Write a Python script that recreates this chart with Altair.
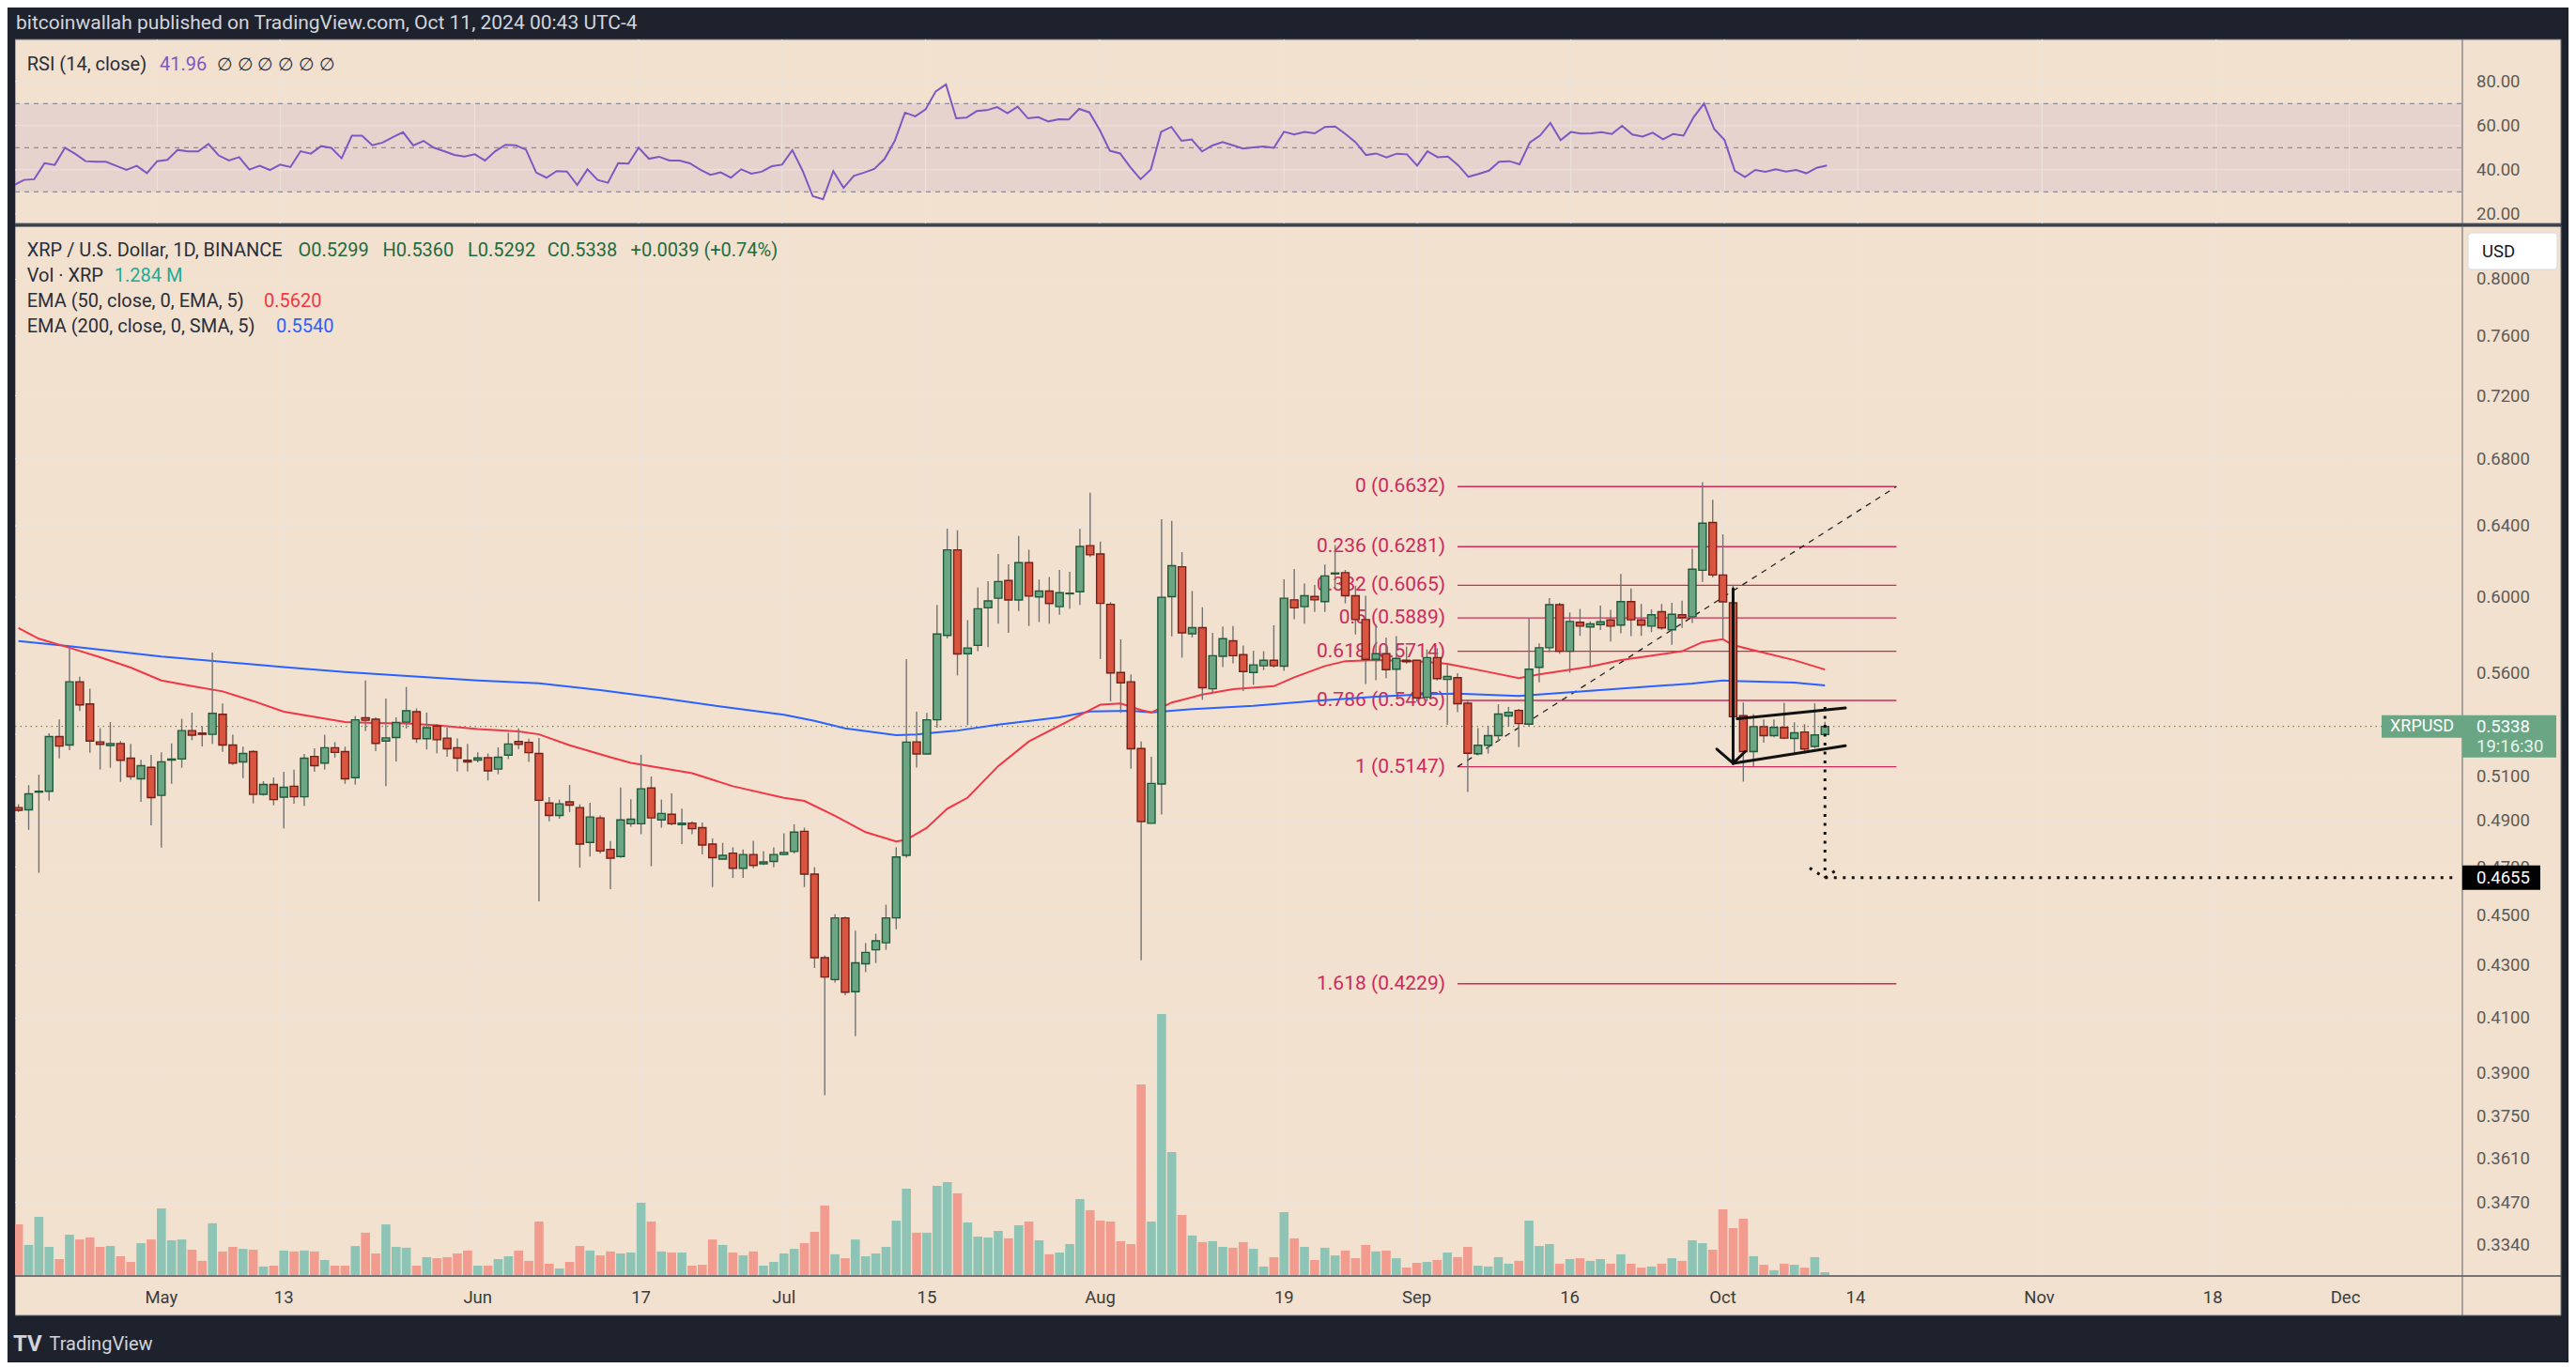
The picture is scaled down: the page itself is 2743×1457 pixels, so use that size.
import altair as alt
import pandas as pd

FONT = "Roboto"
W = 2727
TOP_H = 230
MAIN_H = 1211

DARK = "#1e222d"
BEIGE = "#f2e1cf"
GRID = "#ebe3dc"
UP_FILL = "#6ba584"
UP_LINE = "#1f5a3a"
DN_FILL = "#d9553f"
DN_LINE = "#74201a"
VOL_UP = "#8ec4b5"
VOL_DN = "#f29b8f"
WICK = "#737373"
FIB = "#cc2a5c"
EMA50_C = "#f23645"
EMA200_C = "#2962ff"
RSI_C = "#7e57c2"
TXT = "#2a2e39"
AXIS_TXT = "#5b5b5b"
GREEN_TXT = "#1f6b40"
TEAL = "#22ab94"
BOX_GREEN = "#6aa684"

# ---------------- data ----------------
first_day = "2024-04-17"
last_day = "2024-10-11"

opens = [
    .4960, .4950, .5030, .5034, .5289, .5249, .5558, .5448, .5264, .5247,
    .5256, .5187, .5091, .5144,
    .5015, .5178, .5183, .5318, .5306, .5300, .5397, .5249, .5169, .5218,
    .5020, .5065, .5007, .5057, .5009, .5195, .5164, .5236, .5218, .5096,
    .5380, .5373, .5268, .5285, .5359, .5410, .5279, .5340, .5282, .5236,
    .5177, .5178, .5189, .5136, .5201, .5266, .5262, .5209, .4981, .4925,
    .4986, .4960, .4806, .4914, .4776, .4745, .4888, .4888, .5049, .4905,
    .4930, .4884, .4891, .4871, .4799, .4734, .4760, .4695, .4754, .4714,
    .4724, .4754, .4767, .4855, .4670, .4330, .4245, .4489, .4199, .4306,
    .4361, .4389, .4489, .4750, .5264, .5207, .5370, .5796, .6263, .5701,
    .5744, .5943, .5995, .6092, .5985, .6191, .6002, .6034, .5949, .6019,
    .6030, .6287, .6240, .5962, .5605, .5558, .5232, .4890, .5067, .6003,
    .6168, .5805, .5837, .5523, .5688, .5768, .5696, .5605, .5639, .5667,
    .5637, .5986, .5949, .6004, .5976, .6128, .6135, .6008, .5880, .5672,
    .5701, .5622, .5667, .5667, .5481, .5681, .5570, .5579, .5451, .5208,
    .5248, .5294, .5389, .5416, .5349, .5631, .5732, .5960, .5714, .5866,
    .5841, .5853, .5878, .5851, .5976, .5878, .5845, .5922, .5826, .5906,
    .5895, .6148, .6420, .6122, .5970, .5390, .5218, .5337, .5294, .5333,
    .5280, .5311, .5242, .5299,
]
highs = [
    .4975, .5062, .5110, .5305, .5372, .5728, .5584, .5523, .5330, .5359,
    .5268, .5254, .5179, .5202,
    .5214, .5257, .5375, .5405, .5338, .5707, .5450, .5298, .5241, .5225,
    .5080, .5097, .5123, .5133, .5207, .5233, .5298, .5263, .5241, .5389,
    .5565, .5382, .5475, .5382, .5532, .5426, .5405, .5350, .5332, .5280,
    .5254, .5214, .5209, .5238, .5307, .5329, .5279, .5283, .5007, .4996,
    .5063, .4975, .4982, .4925, .4812, .5051, .4998, .5203, .5102, .4996,
    .5024, .4955, .4899, .4894, .4824, .4804, .4785, .4776, .4813, .4768,
    .4785, .4846, .4886, .4871, .4700, .4338, .4504, .4494, .4437, .4388,
    .4425, .4543, .4785, .5673, .5410, .5404, .5958, .6384, .6375, .5877,
    .6053, .6088, .6240, .6182, .6342, .6264, .6097, .6111, .6150, .6140,
    .6383, .6596, .6310, .5973, .5776, .5595, .5266, .5193, .6439, .6430,
    .6250, .6034, .5946, .5810, .5843, .5846, .5744, .5717, .5714, .5850,
    .6098, .6155, .6075, .6067, .6180, .6290, .6150, .6063, .6008, .5856,
    .5785, .5793, .5738, .5670, .5723, .5730, .5649, .5602, .5467, .5330,
    .5342, .5446, .5433, .5423, .5889, .5755, .5995, .5970, .5918, .5937,
    .5870, .5955, .5932, .6128, .6048, .5964, .5935, .5964, .5970, .5982,
    .6269, .6658, .6554, .6351, .6068, .5455, .5398, .5372, .5372, .5454,
    .5358, .5349, .5451, .5360,
]
lows = [
    .4940, .4861, .4676, .4991, .5186, .5225, .5413, .5212, .5134, .5142,
    .5077, .5086, .4986, .4881,
    .4784, .5068, .5142, .5272, .5242, .5254, .5217, .5155, .5094, .4979,
    .5014, .4970, .4868, .4977, .4968, .5123, .5134, .5190, .5068, .5064,
    .5316, .5220, .5057, .5171, .5328, .5259, .5228, .5210, .5194, .5125,
    .5125, .5167, .5083, .5112, .5183, .5230, .5169, .4557, .4899, .4910,
    .4940, .4698, .4745, .4758, .4607, .4740, .4875, .4842, .4704, .4871,
    .4881, .4799, .4842, .4754, .4616, .4731, .4654, .4654, .4695, .4709,
    .4699, .4751, .4758, .4616, .4290, .3823, .4234, .4185, .4034, .4274,
    .4309, .4361, .4443, .4740, .5143, .5203, .5332, .5780, .5590, .5344,
    .5715, .5735, .5858, .5810, .5926, .5846, .5867, .5858, .5906, .5938,
    .5958, .6222, .5674, .5460, .5404, .5138, .4320, .4889, .4929, .5792,
    .5681, .5786, .5468, .5503, .5633, .5652, .5512, .5543, .5617, .5630,
    .5613, .5882, .5858, .5921, .5921, .6047, .5967, .5801, .5547, .5566,
    .5577, .5498, .5650, .5460, .5460, .5565, .5346, .5407, .5031, .5200,
    .5208, .5268, .5337, .5239, .5337, .5555, .5709, .5701, .5604, .5794,
    .5631, .5825, .5764, .5808, .5793, .5794, .5814, .5826, .5747, .5836,
    .5862, .6084, .6108, .5780, .5268, .5078, .5150, .5260, .5286, .5277,
    .5212, .5208, .5234, .5292,
]
closes = [
    .4948, .5022, .5034, .5289, .5244, .5558, .5443, .5268, .5252, .5256,
    .5177, .5101, .5152, .5005,
    .5170, .5183, .5318, .5296, .5300, .5402, .5249, .5164, .5209, .5020,
    .5065, .4996, .5052, .5009, .5187, .5152, .5236, .5214, .5091, .5370,
    .5368, .5257, .5283, .5357, .5414, .5279, .5332, .5274, .5231, .5187,
    .5169, .5188, .5128, .5191, .5254, .5252, .5213, .4993, .4925, .4977,
    .4971, .4799, .4918, .4769, .4738, .4905, .4908, .5045, .4914, .4934,
    .4888, .4891, .4866, .4795, .4740, .4750, .4695, .4754, .4707, .4722,
    .4754, .4763, .4851, .4670, .4330, .4255, .4489, .4197, .4310, .4351,
    .4397, .4489, .4743, .5263, .5207, .5370, .5804, .6263, .5700, .5731,
    .5938, .5980, .6086, .5985, .6191, .6006, .6034, .5966, .6025, .6022,
    .6282, .6235, .5967, .5603, .5553, .5231, .4898, .5070, .6000, .6174,
    .5810, .5837, .5528, .5691, .5779, .5691, .5610, .5644, .5667, .5639,
    .5995, .5943, .6008, .5986, .6117, .6133, .6008, .5880, .5672, .5701,
    .5619, .5677, .5660, .5478, .5681, .5574, .5585, .5449, .5210, .5248,
    .5294, .5398, .5407, .5352, .5622, .5732, .5960, .5714, .5870, .5845,
    .5857, .5868, .5845, .5976, .5879, .5851, .5906, .5836, .5908, .5891,
    .6154, .6416, .6122, .5975, .5385, .5218, .5337, .5294, .5333, .5282,
    .5307, .5230, .5297, .5338,
]
volumes_m = [
    23.2,
    13.8, 26.7, 12.9, 7.3, 18.5, 16.3, 17.2, 12.9, 13.3, 8.6,
    6.0, 14.6, 16.3, 30.5, 15.9, 16.3, 11.6, 6.5, 23.7, 10.8,
    12.9, 12.0, 11.6, 3.9, 4.3, 11.2, 10.8, 11.2, 10.8, 6.9,
    4.3, 4.3, 13.3, 19.4, 9.9, 23.2, 12.9, 12.5, 4.3, 8.2,
    7.7, 8.2, 9.9, 11.2, 4.3, 4.3, 7.3, 8.6, 11.2, 6.5,
    24.5, 5.2, 3.0, 6.0, 13.3, 11.2, 9.0, 10.8, 9.9, 10.3,
    33.1, 24.5, 10.8, 10.3, 10.3, 4.3, 4.7, 16.3, 13.8, 10.3,
    9.0, 10.8, 4.3, 6.0, 9.9, 12.0, 14.6, 19.8, 31.8, 9.5,
    7.7, 16.3, 8.6, 9.9, 12.9, 24.9, 39.6, 19.4, 19.4, 40.9,
    42.6, 37.4, 24.1, 17.6, 17.2, 20.2, 16.8, 22.8, 24.5, 15.9,
    9.5, 10.3, 14.2, 34.8, 29.7, 24.9, 24.5, 15.5, 14.2, 87.3,
    24.5, 119.5, 56.3, 27.5, 18.1, 15.1, 15.5, 12.9, 12.5, 15.1,
    12.0, 3.9, 8.2, 28.8, 16.8, 12.9, 6.9, 12.5, 9.0, 11.2,
    7.7, 13.8, 10.8, 11.2, 7.7, 3.4, 5.6, 6.0, 6.9, 10.3,
    8.2, 12.9, 4.3, 3.9, 8.2, 5.2, 6.5, 24.9, 13.3, 14.2,
    5.2, 7.3, 7.7, 6.5, 7.3, 5.2, 9.5, 5.2, 3.4, 3.9,
    5.2, 7.7, 6.5, 15.9, 14.6, 11.6, 30.1, 21.5, 25.8, 8.6,
    4.7, 2.2, 5.2, 4.7, 3.4, 8.2, 1.284,
]
rsi_values = [
    33.0,
    35.4, 35.7, 43.0, 42.2, 50.0, 47.2, 43.9, 43.6, 43.6, 41.8,
    39.9, 41.8, 38.5, 43.9, 44.5, 49.0, 48.3, 48.3, 51.7, 46.5,
    44.2, 45.7, 40.1, 41.8, 39.9, 42.3, 41.2, 48.4, 47.3, 50.7,
    49.9, 45.2, 55.4, 55.4, 51.1, 52.3, 54.8, 57.0, 51.0, 53.1,
    50.0, 48.4, 46.7, 46.0, 47.0, 44.2, 48.4, 51.3, 51.1, 49.1,
    38.7, 36.4, 39.4, 39.2, 33.1, 40.2, 35.4, 34.1, 43.0, 42.8,
    50.0, 45.0, 45.9, 44.2, 44.2, 42.9, 40.1, 37.7, 38.8, 36.4,
    40.2, 38.2, 39.1, 41.6, 42.3, 48.9, 39.6, 28.0, 26.6, 39.4,
    31.8, 37.2, 38.7, 40.4, 44.9, 53.1, 65.9, 64.2, 67.3, 75.5,
    78.7, 63.3, 63.6, 66.6, 67.0, 68.4, 65.6, 68.6, 63.3, 63.8,
    61.9, 62.9, 62.8, 67.6, 66.0, 58.1, 48.6, 47.4, 41.1, 35.7,
    40.1, 57.2, 59.4, 53.1, 53.7, 48.3, 51.0, 52.6, 51.1, 49.6,
    50.1, 50.6, 49.9, 57.2, 56.0, 57.1, 56.5, 59.4, 59.6, 56.2,
    52.4, 46.7, 47.4, 45.6, 47.3, 47.0, 41.9, 48.4, 45.7, 46.0,
    42.1, 36.8, 38.1, 39.6, 43.6, 43.9, 42.5, 52.4, 55.5, 61.2,
    53.4, 57.1, 56.4, 56.5, 57.0, 56.2, 59.9, 56.0, 55.0, 56.8,
    53.8, 56.2, 55.5, 63.9, 70.0, 58.4, 53.5, 39.6, 36.7, 39.9,
    39.1, 40.2, 39.2, 39.9, 38.4, 40.9, 41.96,
]

# EMA sample points (days after 2024-05-01, value)
ema50_days = [-14, -12, -9, -6, -3, 0, 3, 6, 9, 12, 15, 18, 21, 24, 27, 31, 35, 37, 40, 44,
              46, 52, 56, 61, 63, 66, 69, 72, 73, 75, 77, 79, 82, 85, 88, 91, 92, 94, 96, 97,
              99, 102, 105, 109, 111, 114, 116, 119, 122, 124, 126, 130, 133, 135, 140, 143,
              149, 151, 153, 154, 156, 160, 163]
ema50_vals = [.5835, .5779, .5732, .5683, .5630, .5565, .5536, .5510, .5462, .5410, .5384, .5359,
              .5355, .5353, .5343, .5325, .5314, .5300, .5248, .5191, .5165, .5117, .5057, .5004,
              .4990, .4923, .4851, .4810, .4818, .4870, .4955, .5005, .5150, .5266, .5342, .5418,
              .5444, .5450, .5418, .5406, .5455, .5494, .5521, .5536, .5581, .5638, .5663, .5668,
              .5664, .5659, .5649, .5608, .5577, .5595, .5635, .5668, .5714, .5761, .5776, .5746,
              .5719, .5668, .5620]
ema200_days = [-14, -9, 0, 12, 18, 31, 37, 43, 49, 55, 61, 64, 67, 72, 74, 76, 78, 82, 88, 91,
               95, 97, 101, 107, 113, 119, 124, 127, 133, 140, 146, 150, 153, 154, 160, 163]
ema200_vals = [.5767, .5740, .5687, .5632, .5607, .5565, .5551, .5517, .5477, .5434, .5395, .5365,
               .5329, .5296, .5299, .5309, .5318, .5347, .5382, .5411, .5414, .5406, .5422, .5439,
               .5463, .5484, .5496, .5499, .5487, .5513, .5535, .5549, .5565, .5562, .5554, .5540]

# price gridlines; the 0.5300 label is hidden under the live-price tag in the reference
price_ticks = [0.334, 0.347, 0.361, 0.375, 0.39, 0.41, 0.43, 0.45, 0.47, 0.49, 0.51, 0.53,
               0.56, 0.60, 0.64, 0.68, 0.72, 0.76, 0.80]
price_label_ticks = [0.334, 0.347, 0.361, 0.375, 0.39, 0.41, 0.43, 0.45, 0.47, 0.49, 0.51,
                     0.56, 0.60, 0.64, 0.68, 0.72, 0.76, 0.80]
rsi_ticks = [20, 40, 60, 80]
rsi_levels = [70, 50, 30]
time_tick_dates = ["2024-05-01", "2024-05-13", "2024-06-01", "2024-06-17", "2024-07-01",
                   "2024-07-15", "2024-08-01", "2024-08-19", "2024-09-01", "2024-09-16",
                   "2024-10-01", "2024-10-14", "2024-11-01", "2024-11-18", "2024-12-01"]
time_tick_labels = ["May", "13", "Jun", "17", "Jul", "15", "Aug", "19", "Sep", "16",
                    "Oct", "14", "Nov", "18", "Dec"]

fib_ratios = ["0", "0.236", "0.382", "0.5", "0.618", "0.786", "1", "1.618"]
fib_prices = [0.6632, 0.6281, 0.6065, 0.5889, 0.5714, 0.5465, 0.5147, 0.4229]
fib_start_date = "2024-09-05"
fib_end_date = "2024-10-18"

current_price = 0.5338
target_price = 0.4655

# hand drawings: (day0, price0, day1, price1), days after 2024-05-01
flag_segments = [
    (154.0, 0.6046, 154.0, 0.5163),
    (152.4, 0.5230, 154.0, 0.5163),
    (154.0, 0.5163, 155.2, 0.5219),
    (154.4, 0.5375, 165.0, 0.5428),
    (154.0, 0.5163, 165.0, 0.5246),
]
projection_segments = [
    (163.0, 0.5433, 163.0, 0.4655),
    (161.5, 0.4696, 163.0, 0.4655),
    (163.0, 0.4655, 164.4, 0.4696),
    (163.0, 0.4655, 225.0, 0.4655),
]

# ---------------- frames ----------------
origin = pd.Timestamp("2024-05-01")
def day_of(s):
    return (pd.Timestamp(s) - origin).days

dates = pd.date_range(first_day, last_day, freq="D")
candles = pd.DataFrame({
    "day": [(d - origin).days for d in dates],
    "open": opens, "high": highs, "low": lows, "close": closes,
    "volume": volumes_m, "rsi": rsi_values,
})
candles["dir"] = ["up" if c >= o else "down" for o, c in zip(opens, closes)]

ema50 = pd.DataFrame({"day": ema50_days, "v": ema50_vals})
ema200 = pd.DataFrame({"day": ema200_days, "v": ema200_vals})
ticks_df = pd.DataFrame({"day": [day_of(s) for s in time_tick_dates], "lab": time_tick_labels})
grid_df = pd.DataFrame({"p": price_ticks})
price_df = pd.DataFrame({"p": price_label_ticks, "lab": [f"{p:.4f}" for p in price_label_ticks]})
rsi_tick_df = pd.DataFrame({"v": rsi_ticks, "lab": [f"{v:.2f}" for v in rsi_ticks]})
fib_df = pd.DataFrame({
    "p": fib_prices,
    "lab": [f"{r} ({p:.4f})" for r, p in zip(fib_ratios, fib_prices)],
    "x0": day_of(fib_start_date), "x1": day_of(fib_end_date),
})
diag_df = pd.DataFrame([(day_of(fib_start_date), fib_prices[6], day_of(fib_end_date), fib_prices[0])],
                       columns=["x0", "y0", "x1", "y1"])
flag_df = pd.DataFrame(flag_segments, columns=["x0", "y0", "x1", "y1"])
proj_df = pd.DataFrame(projection_segments, columns=["x0", "y0", "x1", "y1"])

# ---------------- scales ----------------
xs = alt.Scale(domain=[-14.613, 235.39], range=[0, W], nice=False, zero=False)
ps = alt.Scale(type="log", domain=[0.32465, 0.84005], range=[1119, 0], nice=False)
vs = alt.Scale(domain=[0, 480.7], range=[1118, 0], nice=False, zero=False)
rs = alt.Scale(domain=[20, 80], range=[219.8, 78.8], nice=False, zero=False)

X = lambda f: alt.X(f, type="quantitative", scale=xs, axis=None)
PY = lambda f: alt.Y(f, type="quantitative", scale=ps, axis=None)
RY = lambda f: alt.Y(f, type="quantitative", scale=rs, axis=None)

one = pd.DataFrame({"k": [0]})

def box(x, x2, y, y2, fill, **kw):
    return alt.Chart(one).mark_rect(color=fill, **kw).encode(
        x=alt.value(x), x2=alt.value(x2), y=alt.value(y), y2=alt.value(y2))

def rule(x, x2, y, y2, color, width=1.0, **kw):
    return alt.Chart(one).mark_rule(color=color, strokeWidth=width, **kw).encode(
        x=alt.value(x), x2=alt.value(x2), y=alt.value(y), y2=alt.value(y2))

def label(text, x, y, size, color, align="left", weight="normal"):
    return alt.Chart(pd.DataFrame({"t": [text]})).mark_text(
        align=align, baseline="middle", font=FONT, fontSize=size, color=color,
        fontWeight=weight).encode(x=alt.value(x), y=alt.value(y), text="t:N")

# ---------------- top (RSI) panel ----------------
top_layers = [
    box(8, 2719, 34, 230, BEIGE, stroke="#6b6e78", strokeWidth=1),
    alt.Chart(pd.DataFrame({"hi": [70], "lo": [30]})).mark_rect(color=RSI_C, opacity=0.1).encode(
        x=alt.value(8), x2=alt.value(2614), y=RY("hi"), y2="lo"),
    alt.Chart(rsi_tick_df).mark_rule(color=GRID, strokeWidth=1).encode(
        x=alt.value(8), x2=alt.value(2614), y=RY("v")),
    alt.Chart(ticks_df).mark_rule(color=GRID, strokeWidth=1).encode(
        x=X("day"), y=alt.value(34), y2=alt.value(230)),
    alt.Chart(pd.DataFrame({"v": rsi_levels})).mark_rule(
        color="#787b86", strokeWidth=1, strokeDash=[5, 5]).encode(
        x=alt.value(8), x2=alt.value(2614), y=RY("v")),
    alt.Chart(candles).mark_line(color=RSI_C, strokeWidth=2).encode(x=X("day"), y=RY("rsi")),
    rule(2614, 2614, 34, 230, "#5d606b", 1),
    alt.Chart(rsi_tick_df).mark_text(align="left", baseline="middle", font=FONT, fontSize=18.5,
                                     color=AXIS_TXT).encode(
        x=alt.value(2629), y=RY("v"), text="lab:N"),
    box(0, 8, 34, 230, DARK),
    label("bitcoinwallah published on TradingView.com, Oct 11, 2024 00:43 UTC-4", 9, 17, 21, "#d1d4dc"),
    label("RSI (14, close)", 20.7, 61, 20, TXT),
    label("41.96", 162, 61, 20, RSI_C),
    label("\u2205  \u2205  \u2205  \u2205  \u2205  \u2205", 223, 61, 19, TXT),
]
top = alt.layer(*top_layers).properties(width=W, height=TOP_H)

# ---------------- main panel ----------------
candle_df = candles.assign(body=candles["dir"], edge=candles["dir"], vdir=candles["dir"])
dir_fill = alt.Color("body:N", scale=alt.Scale(domain=["up", "down"], range=[UP_FILL, DN_FILL]), legend=None)
dir_line = alt.Stroke("edge:N", scale=alt.Scale(domain=["up", "down"], range=[UP_LINE, DN_LINE]), legend=None)
vol_fill = alt.Color("vdir:N", scale=alt.Scale(domain=["up", "down"], range=[VOL_UP, VOL_DN]), legend=None)

main_layers = [
    box(8, 2719, 0, 1161, BEIGE, stroke="#6b6e78", strokeWidth=1),
    alt.Chart(grid_df).mark_rule(color=GRID, strokeWidth=1).encode(
        x=alt.value(8), x2=alt.value(2614), y=PY("p")),
    alt.Chart(ticks_df).mark_rule(color=GRID, strokeWidth=1).encode(
        x=X("day"), y=alt.value(0), y2=alt.value(1119)),
    alt.Chart(candle_df).mark_bar(size=9.6).encode(
        x=X("day"), y=alt.Y("volume:Q", scale=vs, axis=None), color=vol_fill),
    alt.Chart(fib_df).mark_rule(color=FIB, strokeWidth=1.4).encode(
        x=X("x0"), x2="x1", y=PY("p")),
    alt.Chart(fib_df).mark_text(align="right", baseline="middle", font=FONT, fontSize=21,
                                color=FIB, dx=-13).encode(x=X("x0"), y=PY("p"), text="lab:N"),
    alt.Chart(diag_df).mark_rule(color="#222222", strokeWidth=1.3, strokeDash=[6, 6]).encode(
        x=X("x0"), x2="x1", y=PY("y0"), y2="y1"),
    alt.Chart(ema200).mark_line(color=EMA200_C, strokeWidth=2).encode(x=X("day"), y=PY("v")),
    alt.Chart(ema50).mark_line(color=EMA50_C, strokeWidth=2).encode(x=X("day"), y=PY("v")),
    alt.Chart(pd.DataFrame({"p": [current_price]})).mark_rule(
        color="#4e9a6f", strokeWidth=1.2, strokeDash=[1.5, 4]).encode(
        x=alt.value(8), x2=alt.value(2614), y=PY("p")),
    alt.Chart(candle_df).mark_rule(color=WICK, strokeWidth=1.4).encode(
        x=X("day"), y=PY("low"), y2="high"),
    alt.Chart(candle_df).mark_bar(size=8, strokeWidth=1.4).encode(
        x=X("day"), y=PY("open"), y2="close", color=dir_fill, stroke=dir_line),
    alt.Chart(flag_df).mark_rule(color="#111111", strokeWidth=3, strokeCap="round").encode(
        x=X("x0"), x2="x1", y=PY("y0"), y2="y1"),
    alt.Chart(proj_df).mark_rule(color="#111111", strokeWidth=3, strokeDash=[3, 6.5]).encode(
        x=X("x0"), x2="x1", y=PY("y0"), y2="y1"),
    rule(8, 2719, 0.75, 0.75, "#363a45", 1.5),
    rule(8, 2719, 1119, 1119, "#4c4f59", 1.5),
    rule(2614, 2614, 0, 1161, "#5d606b", 1),
    alt.Chart(ticks_df).mark_text(align="center", baseline="middle", font=FONT, fontSize=18.5,
                                  color="#3c3c3c").encode(x=X("day"), y=alt.value(1142), text="lab:N"),
    alt.Chart(price_df).mark_text(align="left", baseline="middle", font=FONT, fontSize=18.5,
                                  color=AXIS_TXT).encode(x=alt.value(2629), y=PY("p"), text="lab:N"),
    # label boxes
    box(2620, 2715, 8, 47, "#ffffff", stroke="#d6d8de", strokeWidth=1, cornerRadius=4),
    label("USD", 2635, 27.5, 18.5, "#131722"),
    alt.Chart(pd.DataFrame({"p": [current_price]})).mark_rect(
        color=BOX_GREEN, yOffset=-12, y2Offset=12).encode(
        x=alt.value(2528), x2=alt.value(2614), y=PY("p"), y2="p"),
    alt.Chart(pd.DataFrame({"p": [current_price], "t": ["XRPUSD"]})).mark_text(
        align="center", baseline="middle", font=FONT, fontSize=18, color="#ffffff").encode(
        x=alt.value(2571), y=PY("p"), text="t:N"),
    alt.Chart(pd.DataFrame({"p": [current_price]})).mark_rect(
        color=BOX_GREEN, yOffset=-12, y2Offset=33).encode(
        x=alt.value(2614), x2=alt.value(2714), y=PY("p"), y2="p"),
    alt.Chart(pd.DataFrame({"p": [current_price], "t": [f"{current_price:.4f}"]})).mark_text(
        align="left", baseline="middle", font=FONT, fontSize=18.5, color="#ffffff").encode(
        x=alt.value(2629), y=PY("p"), text="t:N"),
    alt.Chart(pd.DataFrame({"p": [current_price], "t": ["19:16:30"]})).mark_text(
        align="left", baseline="middle", font=FONT, fontSize=18.5, color="#e8f3ec", dy=21).encode(
        x=alt.value(2629), y=PY("p"), text="t:N"),
    alt.Chart(pd.DataFrame({"p": [target_price]})).mark_rect(
        color="#000000", yOffset=-13, y2Offset=13).encode(
        x=alt.value(2614), x2=alt.value(2697), y=PY("p"), y2="p"),
    alt.Chart(pd.DataFrame({"p": [target_price], "t": [f"{target_price:.4f}"]})).mark_text(
        align="left", baseline="middle", font=FONT, fontSize=18.5, color="#ffffff").encode(
        x=alt.value(2629), y=PY("p"), text="t:N"),
    # legend
    label("XRP / U.S. Dollar, 1D, BINANCE", 20.7, 27, 20, TXT),
    label("O0.5299", 309.5, 27, 20, GREEN_TXT),
    label("H0.5360", 399.6, 27, 20, GREEN_TXT),
    label("L0.5292", 490, 27, 20, GREEN_TXT),
    label("C0.5338", 574.7, 27, 20, GREEN_TXT),
    label("+0.0039 (+0.74%)", 663.6, 27, 20, GREEN_TXT),
    label("Vol \u00b7 XRP", 20.7, 54, 20, TXT),
    label("1.284 M", 113.7, 54, 20, TEAL),
    label("EMA (50, close, 0, EMA, 5)", 20.7, 81, 20, TXT),
    label("0.5620", 273, 81, 20, EMA50_C),
    label("EMA (200, close, 0, SMA, 5)", 20.7, 108, 20, TXT),
    label("0.5540", 286, 108, 20, EMA200_C),
    box(0, 8, 0, 1161, DARK),
    label("TV", 6, 1192, 24, "#d1d4dc", weight="bold"),
    label("TradingView", 44.5, 1192, 20, "#d1d4dc"),
]
main = alt.layer(*main_layers).resolve_scale(
    y="independent", color="independent", stroke="independent").properties(width=W, height=MAIN_H)

chart = alt.vconcat(top, main, spacing=0).configure(
    background=DARK, padding=0).configure_view(stroke=None)

chart.save("out.html", embed_options={"renderer": "svg", "actions": False})
